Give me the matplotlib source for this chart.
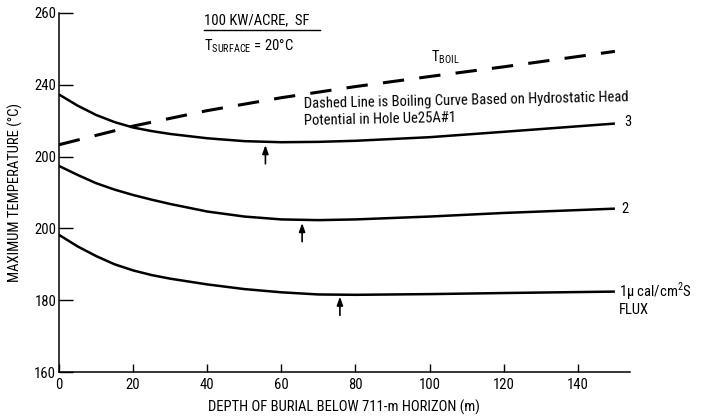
import matplotlib
matplotlib.use("Agg")
import matplotlib.pyplot as plt
from matplotlib import font_manager

# prefer a narrow face; fall back to DejaVu Sans
installed = {f.name for f in font_manager.fontManager.ttflist}
narrow = [n for n in ('Liberation Sans Narrow', 'DejaVu Sans Condensed', 'Roboto Condensed',
                      'Open Sans Condensed', 'Noto Sans Condensed') if n in installed]
plt.rcParams['font.family'] = narrow + ['DejaVu Sans']
if narrow == []:
    plt.rcParams['font.stretch'] = 'condensed'

# depth of burial below the 711-m horizon (m)
depth = [0, 5, 10, 15, 20, 25, 30, 40, 50, 60, 70, 80, 100, 120, 150]

# maximum temperature (C) for each areal power density
temp_flux3 = [237.3, 234.2, 231.6, 229.6, 228.1, 227.1, 226.3, 225.1, 224.3, 224.0, 224.1, 224.4, 225.4, 226.9, 229.2]
temp_flux2 = [217.4, 214.9, 212.6, 210.8, 209.3, 208.0, 206.8, 204.7, 203.3, 202.5, 202.3, 202.5, 203.3, 204.3, 205.5]
temp_flux1 = [198.2, 195.0, 192.3, 190.0, 188.3, 187.0, 186.0, 184.4, 183.1, 182.2, 181.6, 181.5, 181.7, 182.0, 182.4]

# boiling curve from hydrostatic head
boil_depth = [0, 20, 40, 60, 80, 100, 120, 150]
boil_temp = [223.3, 228.5, 232.8, 236.4, 239.5, 242.3, 245.0, 249.3]

# depth of the temperature minimum on each curve (arrows)
min_depth = [55.7, 65.6, 75.8]
min_temp = [223.2, 201.5, 181.0]

x_ticks = [0, 20, 40, 60, 80, 100, 120, 140]
y_ticks = [160, 180, 200, 220, 240, 260]
y_tick_labels = ['160', '180', '200', '200', '240', '260']

fig = plt.figure(figsize=(7.09, 4.18), dpi=100)
ax = fig.add_axes([0.0832, 0.11, 0.805, 0.859])

for temps in (temp_flux3, temp_flux2, temp_flux1):
    ax.plot(depth, temps, color='black', lw=1.8, solid_capstyle='butt')

ax.plot(boil_depth, boil_temp, color='black', lw=2.2, dashes=(7, 5))

for d, t in zip(min_depth, min_temp):
    ax.annotate('', xy=(d, t), xytext=(d, t - 5.2),
                arrowprops=dict(arrowstyle='-|>,head_length=0.5,head_width=0.18',
                                color='black', lw=1.2, shrinkA=0, shrinkB=0))

ax.set_xlim(0, 154)
ax.set_ylim(160, 260)
ax.set_xticks(x_ticks)
ax.set_yticks(y_ticks)
ax.set_yticklabels(y_tick_labels)
ax.tick_params(axis='y', direction='in', length=10, width=1, labelsize=10.5, pad=2)
ax.tick_params(axis='x', direction='in', length=6, width=1, labelsize=10.5, pad=4)
for side in ('top', 'right'):
    ax.spines[side].set_visible(False)
for side in ('left', 'bottom'):
    ax.spines[side].set_linewidth(1.1)

ax.set_xlabel('DEPTH OF BURIAL BELOW 711-m HORIZON (m)', fontsize=10.5, labelpad=6)
ax.set_ylabel('MAXIMUM TEMPERATURE (°C)', fontsize=10.5, labelpad=8)

# header
ax.text(39.1, 258.0, '100 KW/ACRE,  SF', fontsize=10.5, va='center', ha='left')
ax.plot([39.1, 70.5], [255.2, 255.2], color='black', lw=1.0, clip_on=False)
ax.text(39.1, 250.8, r'T$_{\mathregular{SURFACE}}$ = 20°C', fontsize=10.5,
        va='center', ha='left')
ax.text(100.3, 247.6, r'T$_{\mathregular{BOIL}}$', fontsize=10.5, va='center', ha='left')

ax.text(66.0, 234.6, 'Dashed Line is Boiling Curve Based on Hydrostatic Head',
        fontsize=10.5, va='center', ha='left', rotation=1.2, rotation_mode='anchor')
ax.text(66.0, 230.0, 'Potential in Hole Ue25A#1', fontsize=10.5, va='center', ha='left',
        rotation=1.2, rotation_mode='anchor')

ax.text(152.5, temp_flux3[-1] + 0.3, '3', fontsize=10.5, va='center', ha='left')
ax.text(151.8, temp_flux2[-1], '2', fontsize=10.5, va='center', ha='left')
ax.text(151.2, temp_flux1[-1] + 0.2, '1μ cal/cm$^{\\mathregular{2}}$S', fontsize=10.5,
        va='center', ha='left')
ax.text(151.2, 177.4, 'FLUX', fontsize=10.5, va='center', ha='left')

fig.savefig('out.png', dpi=100)
